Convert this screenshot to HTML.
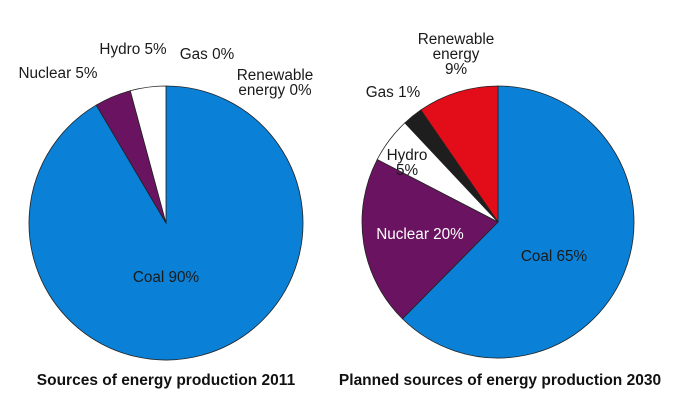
<!DOCTYPE html>
<html><head><meta charset="utf-8"><style>
body{margin:0;background:#fff;}
svg{display:block;font-family:"Liberation Sans",Arial,sans-serif;}
</style></head><body>
<svg id="chart" width="680" height="420" viewBox="0 0 680 420"></svg>
<script>
const categories2011 = ["Coal","Nuclear","Hydro","Gas","Renewable energy"];
const values2011 = [91.5,4.3,4.2,0,0];
const labels2011 = [90,5,5,0,0];
const categories2030 = ["Coal","Nuclear","Hydro","Gas","Renewable energy"];
const values2030 = [62.4,20.2,5.4,2.4,9.6];
const labels2030 = [65,20,5,1,9];
const colors = {"Coal":"#0a80d6","Nuclear":"#6a1461","Hydro":"#ffffff","Gas":"#1e1e1e","Renewable energy":"#e20d19"};
const svg = document.getElementById('chart');
const NS = "http://www.w3.org/2000/svg";
function el(tag, attrs){const e=document.createElementNS(NS,tag);for(const k in attrs)e.setAttribute(k,attrs[k]);svg.appendChild(e);return e;}
function pie(cx,cy,r,cats,vals,prefix){
  const total = vals.reduce((a,b)=>a+b,0);
  let acc=0;
  cats.forEach((c,i)=>{
    const v=vals[i]; if(v<=0) return;
    const a0=acc/total*2*Math.PI; acc+=v; const a1=acc/total*2*Math.PI;
    const x0=cx+r*Math.sin(a0), y0=cy-r*Math.cos(a0);
    const x1=cx+r*Math.sin(a1), y1=cy-r*Math.cos(a1);
    const large=(a1-a0)>Math.PI?1:0;
    const p=el('path',{d:`M${cx},${cy} L${x0},${y0} A${r},${r} 0 ${large} 1 ${x1},${y1} Z`,fill:colors[c],stroke:"#222","stroke-width":"0.8"});
    
    
  });
}
pie(166,223,137,categories2011,values2011,'pie-2011');
pie(498,222,136,categories2030,values2030,'pie-2030');
function label(x,y,lines,name,fill,anchor){
  const t=el('text',{x:x,y:y,"font-size":"15.3",fill:fill||"#1a1a1a","text-anchor":anchor||"middle"});
  
  
  lines.forEach((l,i)=>{const s=document.createElementNS(NS,'tspan');s.setAttribute('x',x);s.setAttribute('dy',i?15:0);s.textContent=l;t.appendChild(s);});
}
label(166,282,["Coal "+labels2011[0]+"%"],"label-2011-coal");
label(58,78,["Nuclear "+labels2011[1]+"%"],"label-2011-nuclear");
label(133,54,["Hydro "+labels2011[2]+"%"],"label-2011-hydro");
label(207,59,["Gas "+labels2011[3]+"%"],"label-2011-gas");
label(275,80,["Renewable","energy "+labels2011[4]+"%"],"label-2011-renewable");
label(554,261,["Coal "+labels2030[0]+"%"],"label-2030-coal");
label(420,239,["Nuclear "+labels2030[1]+"%"],"label-2030-nuclear","#fff");
label(407,160,["Hydro",labels2030[2]+"%"],"label-2030-hydro");
label(393,97,["Gas "+labels2030[3]+"%"],"label-2030-gas");
label(456,44,["Renewable","energy",labels2030[4]+"%"],"label-2030-renewable");
const t1=el('text',{x:166,y:385,"font-size":"15.5","font-weight":"bold","text-anchor":"middle",fill:"#111"});
t1.textContent="Sources of energy production 2011";


const t2=el('text',{x:500,y:385,"font-size":"15.5","font-weight":"bold","text-anchor":"middle",fill:"#111"});
t2.textContent="Planned sources of energy production 2030";


</script>
</body></html>
